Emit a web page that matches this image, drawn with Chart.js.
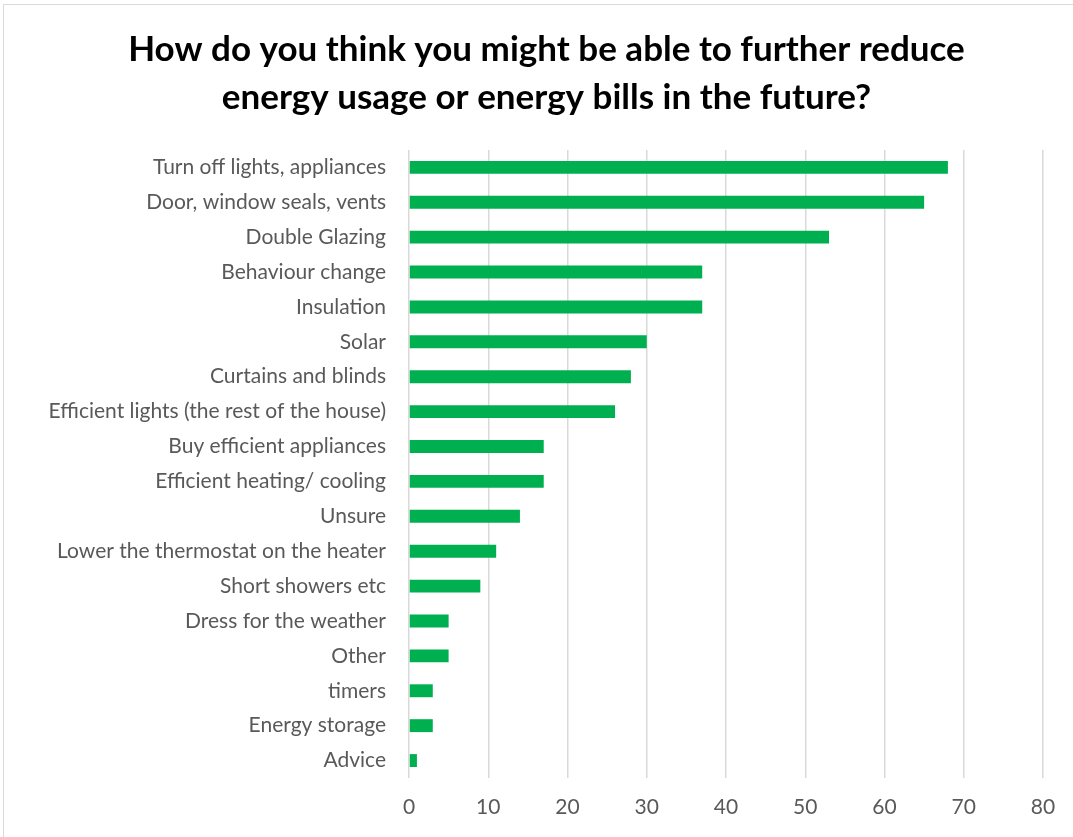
<!DOCTYPE html>
<html>
<head>
<meta charset="utf-8">
<script src="https://cdn.jsdelivr.net/npm/chart.js@4.4.1/dist/chart.umd.min.js"></script>
<style>
  body { margin: 0; background: #fff; }
  #frame { position: absolute; left: 3px; top: 4px; width: 1100px; height: 900px; border: 1px solid #d9d9d9; }
  #chart { position: absolute; left: 0; top: 0; }
</style>
</head>
<body>
<div id="frame"></div>
<canvas id="chart" width="1073" height="837"></canvas>
<script>
const categories = [
    'Turn off lights, appliances',
    'Door, window seals, vents',
    'Double Glazing',
    'Behaviour change',
    'Insulation',
    'Solar',
    'Curtains and blinds',
    'Efficient lights (the rest of the house)',
    'Buy efficient appliances',
    'Efficient heating/ cooling',
    'Unsure',
    'Lower the thermostat on the heater',
    'Short showers etc',
    'Dress for the weather',
    'Other',
    'timers',
    'Energy storage',
    'Advice'
];
const responses = [68, 65, 53, 37, 37, 30, 28, 26, 17, 17, 14, 11, 9, 5, 5, 3, 3, 1];
const titleLines = ['How do you think you might be able to further reduce', 'energy usage or energy bills in the future?'];

// title is centred over the padded area, so pad left and shrink the y axis to keep the plot at x=409
const ctx = document.getElementById('chart').getContext('2d');
const chart = new Chart(ctx, {
    type: 'bar',
    data: {
        labels: categories,
        datasets: [{
            data: responses,
            backgroundColor: '#00b050',
            borderWidth: 0,
            barPercentage: 0.37,
            categoryPercentage: 1
        }]
    },
    options: {
        indexAxis: 'y',
        responsive: false,
        animation: false,
        layout: { padding: { top: 0, right: 30, left: 50, bottom: 0 } },
        plugins: {
            legend: { display: false },
            tooltip: { enabled: false },
            title: {
                display: true,
                text: titleLines,
                color: '#000',
                font: { family: 'Lato', size: 35, weight: 'bold', lineHeight: 1.37 },
                padding: { top: 26, bottom: 28 }
            }
        },
        scales: {
            x: {
                min: 0,
                max: 80,
                ticks: { stepSize: 10, color: '#595959', font: { family: 'Lato', size: 21 }, padding: 17 },
                grid: { color: '#d9d9d9', lineWidth: 1.5, drawTicks: false },
                border: { display: false },
                afterFit: (axis) => { axis.height = 59; }
            },
            y: {
                ticks: { color: '#595959', font: { family: 'Lato', size: 21 }, padding: 23 },
                grid: { display: false, drawTicks: false },
                border: { display: false },
                afterFit: (axis) => { axis.width = 359; }
            }
        }
    }
});
</script>
</body>
</html>
